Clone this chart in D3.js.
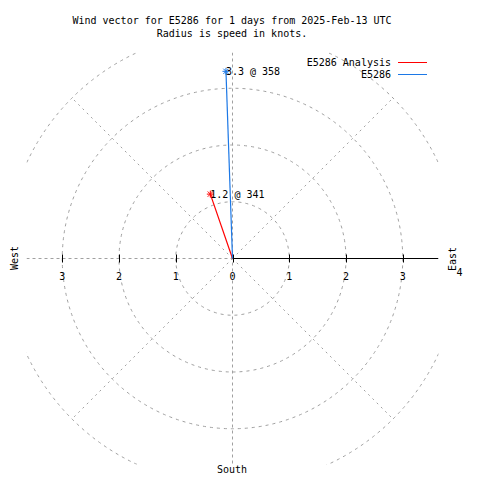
<!DOCTYPE html>
<html><head><meta charset="utf-8">
<script src="https://cdn.jsdelivr.net/npm/d3@7"></script>
<style>body{margin:0;background:#fff}svg{display:block}text{font-family:"DejaVu Sans Mono",monospace;font-size:10px;fill:#000}</style>
</head><body>
<script>
const seriesNames = ["E5286 Analysis", "E5286"];
const seriesColors = ["#ff0000", "#1c78e6"];
const speeds = [1.2, 3.3];
const directions = [341, 358];
const ringValues = [1, 2, 3, 4];
const leftTicks = [-3, -2, -1, 0];
const rightTicks = [1, 2, 3];
const edgeTick = 4;
const titleLines = ["Wind vector for E5286 for 1 days from 2025-Feb-13 UTC", "Radius is speed in knots."];

const W = 480, H = 480;
const cx = 232.5, cy = 258.5, half = 206;
const maxR = d3.max(speeds) * 1.1;
const r = d3.scaleLinear().domain([0, maxR]).range([0, half]);
const x = d3.scaleLinear().domain([-maxR, maxR]).range([cx - half, cx + half]);

const svg = d3.select("body").append("svg").attr("width", W).attr("height", H);
svg.append("defs").append("clipPath").attr("id", "pa").append("rect")
  .attr("x", cx - half).attr("y", cy - half).attr("width", 2 * half).attr("height", 2 * half);

const g = svg.append("g").attr("clip-path", "url(#pa)");
const grid = "#a0a0a0";
g.selectAll("circle.ring").data(ringValues).join("circle").attr("class", "ring")
  .attr("cx", cx).attr("cy", cy).attr("r", d => r(d))
  .attr("fill", "none").attr("stroke", grid).attr("stroke-dasharray", "3,4");
g.selectAll("line.diag").data([45, 135, 225, 315]).join("line").attr("class", "diag")
  .attr("x1", cx).attr("y1", cy)
  .attr("x2", a => cx + r(d3.max(ringValues)) * Math.sin(a * Math.PI / 180))
  .attr("y2", a => cy - r(d3.max(ringValues)) * Math.cos(a * Math.PI / 180))
  .attr("stroke", grid).attr("stroke-dasharray", "2,4");
// vertical and horizontal axes
g.append("line").attr("x1", cx).attr("x2", cx).attr("y1", cy - half).attr("y2", cy + half)
  .attr("stroke", grid).attr("stroke-dasharray", "3,3");
g.append("line").attr("x1", cx - half).attr("x2", cx).attr("y1", cy).attr("y2", cy)
  .attr("stroke", grid).attr("stroke-dasharray", "3,3");
g.append("line").attr("x1", cx).attr("x2", cx + half).attr("y1", cy).attr("y2", cy)
  .attr("stroke", "#000");
// ticks
g.selectAll("line.tick").data(leftTicks.concat(rightTicks)).join("line").attr("class", "tick")
  .attr("x1", d => Math.round(x(d)) + 0.5).attr("x2", d => Math.round(x(d)) + 0.5)
  .attr("y1", cy - 4).attr("y2", cy + 4).attr("stroke", "#000");

// tick labels
svg.selectAll("text.tl").data(leftTicks.concat(rightTicks)).join("text").attr("class", "tl")
  .attr("x", d => x(d)).attr("y", 280).attr("text-anchor", "middle").text(d => Math.abs(d));
svg.append("text").attr("x", x(edgeTick)).attr("y", 276).attr("text-anchor", "middle").text(edgeTick);

// vectors
const pts = speeds.map((s, i) => {
  const a = directions[i] * Math.PI / 180;
  return { px: cx + r(s) * Math.sin(a), py: cy - r(s) * Math.cos(a), s, d: directions[i], c: seriesColors[i] };
});
const vg = svg.append("g");
vg.selectAll("line.vec").data(pts).join("line").attr("class", "vec")
  .attr("x1", cx).attr("y1", cy).attr("x2", p => p.px).attr("y2", p => p.py)
  .attr("stroke", p => p.c).attr("stroke-width", 1.2);
pts.forEach(p => {
  const m = vg.append("g").attr("transform", `translate(${p.px},${p.py})`);
  const k = 3.5;
  [[-k, 0, k, 0], [0, -k, 0, k], [-k * 0.75, -k * 0.75, k * 0.75, k * 0.75], [-k * 0.75, k * 0.75, k * 0.75, -k * 0.75]]
    .forEach(s => m.append("line").attr("x1", s[0]).attr("y1", s[1]).attr("x2", s[2]).attr("y2", s[3]).attr("stroke", p.c));
  vg.append("text").attr("x", p.px).attr("y", p.py + 3.5).text(`${p.s} @ ${p.d}`);
});

// titles
svg.selectAll("text.title").data(titleLines).join("text").attr("class", "title")
  .attr("x", 232).attr("y", (d, i) => 24 + i * 13).attr("text-anchor", "middle").text(d => d);

// legend
seriesNames.forEach((n, i) => {
  svg.append("text").attr("x", 391).attr("y", 66 + i * 12).attr("text-anchor", "end").text(n);
  svg.append("line").attr("x1", 398).attr("x2", 427).attr("y1", 62.5 + i * 12).attr("y2", 62.5 + i * 12)
    .attr("stroke", seriesColors[i]);
});

// direction labels
svg.append("text").attr("transform", "translate(18,258) rotate(-90)").attr("text-anchor", "middle").text("West");
svg.append("text").attr("transform", "translate(456,259) rotate(-90)").attr("text-anchor", "middle").text("East");
svg.append("text").attr("x", 232).attr("y", 473).attr("text-anchor", "middle").text("South");
</script>
</body></html>
